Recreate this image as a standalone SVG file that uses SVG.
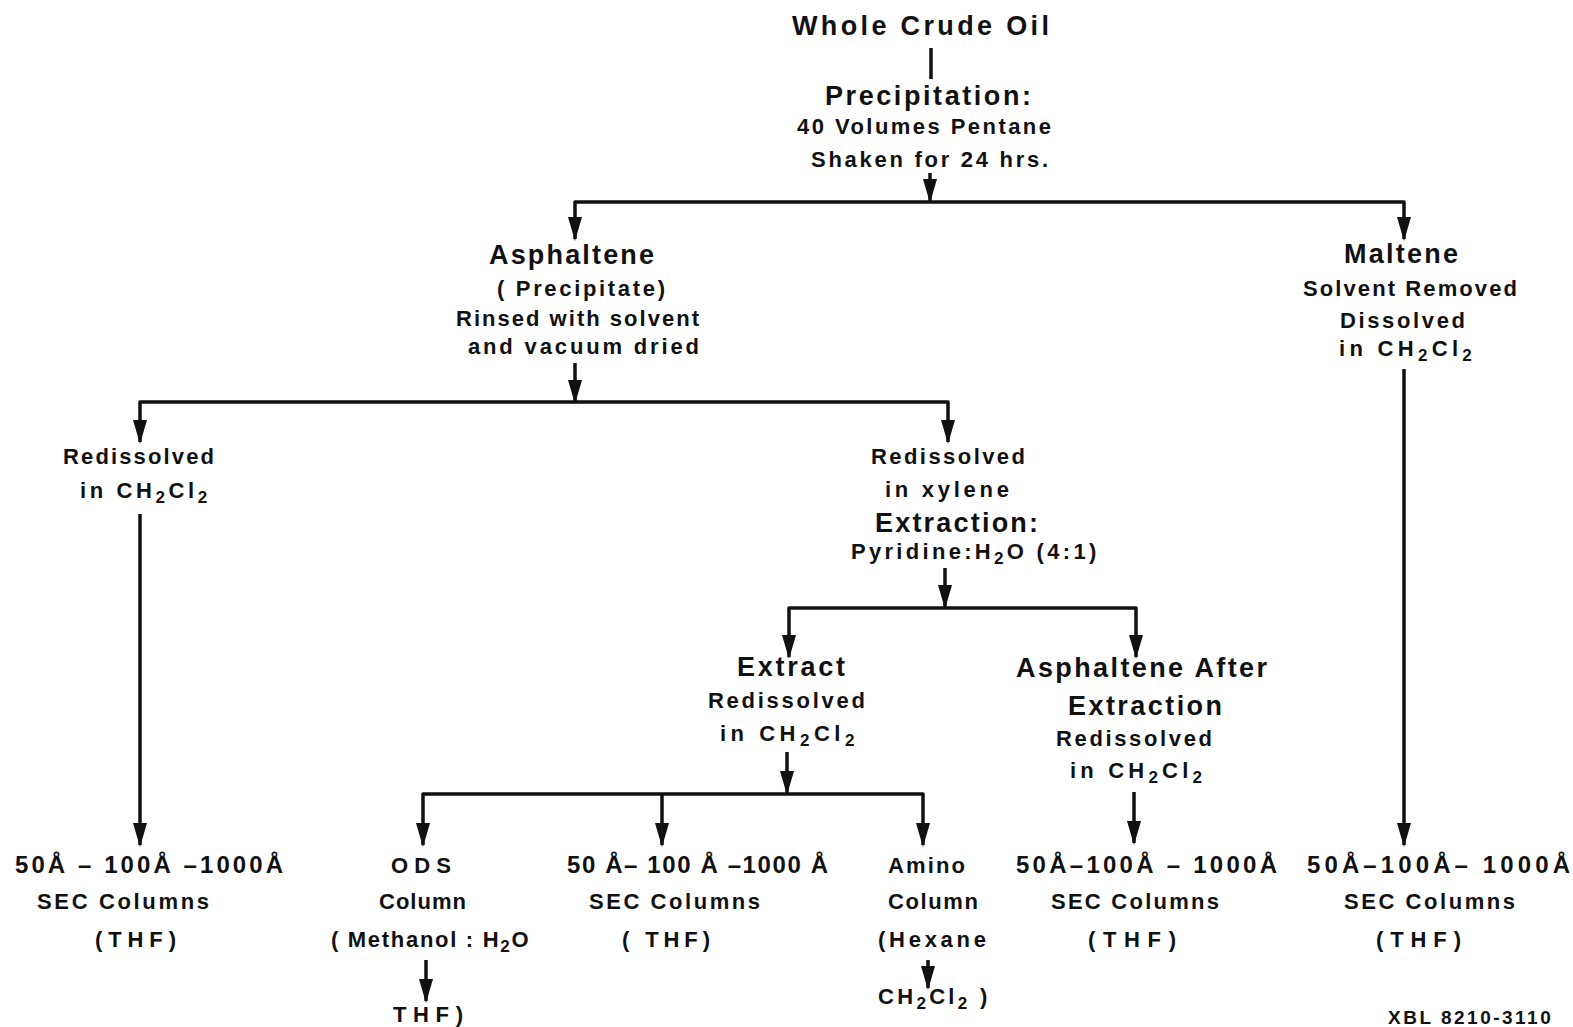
<svg xmlns="http://www.w3.org/2000/svg" width="1573" height="1027" viewBox="0 0 1573 1027">
<style>
text{font-family:"Liberation Sans",Arial,sans-serif;font-weight:bold;fill:#111;}
.b{font-size:27px;}
.s{font-size:22px;}
.m{font-size:24px;}
.sub{font-size:17px;}
.c{fill:none;stroke:#111;stroke-width:3.5;stroke-linejoin:round;}
</style>
<defs>
<marker id="ar" markerUnits="userSpaceOnUse" markerWidth="24" markerHeight="14" viewBox="0 0 24 14" refX="22" refY="7" orient="auto-start-reverse">
<path d="M0,0 L24,7 L0,14 Z" fill="#111"/>
</marker>
</defs>
<rect width="1573" height="1027" fill="#fff"/>

<g id="connectors">
<path class="c" d="M931,48 V79"/>
<path class="c" d="M930,173 V201" marker-end="url(#ar)"/>
<path class="c" d="M575,239 V202 H1404 V239" marker-start="url(#ar)" marker-end="url(#ar)"/>
<path class="c" d="M575,363 V402" marker-end="url(#ar)"/>
<path class="c" d="M140,442 V402 H948 V442" marker-start="url(#ar)" marker-end="url(#ar)"/>
<path class="c" d="M140,514 V845" marker-end="url(#ar)"/>
<path class="c" d="M1404,369 V845" marker-end="url(#ar)"/>
<path class="c" d="M945,568 V607" marker-end="url(#ar)"/>
<path class="c" d="M789,657 V608 H1136 V657" marker-start="url(#ar)" marker-end="url(#ar)"/>
<path class="c" d="M787,752 V793" marker-end="url(#ar)"/>
<path class="c" d="M423,845 V794 H923 V845" marker-start="url(#ar)" marker-end="url(#ar)"/>
<path class="c" d="M662,794 V845" marker-end="url(#ar)"/>
<path class="c" d="M1134,792 V843" marker-end="url(#ar)"/>
<path class="c" d="M426,960 V1001" marker-end="url(#ar)"/>
<path class="c" d="M928,960 V988" marker-end="url(#ar)"/>
</g>

<g id="whole-crude-oil">
<text class="b" x="792" y="35" textLength="257" lengthAdjust="spacing">Whole Crude Oil</text>
</g>
<g id="precipitation">
<text class="b" x="825" y="105" textLength="206" lengthAdjust="spacing">Precipitation:</text>
<text class="s" x="797" y="134" textLength="254" lengthAdjust="spacing">40 Volumes Pentane</text>
<text class="s" x="811" y="167" textLength="237" lengthAdjust="spacing">Shaken for 24 hrs.</text>
</g>
<g id="asphaltene">
<text class="b" x="489" y="264" textLength="165" lengthAdjust="spacing">Asphaltene</text>
<text class="s" x="497" y="296" textLength="168" lengthAdjust="spacing">( Precipitate)</text>
<text class="s" x="456" y="326" textLength="243" lengthAdjust="spacing">Rinsed with solvent</text>
<text class="s" x="468" y="354" textLength="231" lengthAdjust="spacing">and vacuum dried</text>
</g>
<g id="maltene">
<text class="b" x="1344" y="263" textLength="114" lengthAdjust="spacing">Maltene</text>
<text class="s" x="1303" y="296" textLength="214" lengthAdjust="spacing">Solvent Removed</text>
<text class="s" x="1340" y="328" textLength="125" lengthAdjust="spacing">Dissolved</text>
<text class="s" x="1339" y="356" letter-spacing="4.3">in CH<tspan class="sub" dy="5">2</tspan><tspan dy="-5">Cl</tspan><tspan class="sub" dy="5">2</tspan></text>
</g>
<g id="redissolved-ch2cl2">
<text class="s" x="63" y="464" textLength="151" lengthAdjust="spacing">Redissolved</text>
<text class="s" x="80" y="498" letter-spacing="3.6">in CH<tspan class="sub" dy="5">2</tspan><tspan dy="-5">Cl</tspan><tspan class="sub" dy="5">2</tspan></text>
</g>
<g id="redissolved-xylene">
<text class="s" x="871" y="464" textLength="154" lengthAdjust="spacing">Redissolved</text>
<text class="s" x="885" y="497" textLength="124" lengthAdjust="spacing">in  xylene</text>
<text class="b" x="875" y="532" textLength="163" lengthAdjust="spacing">Extraction:</text>
<text class="s" x="851" y="559" letter-spacing="3.3">Pyridine:H<tspan class="sub" dy="5">2</tspan><tspan dy="-5">O (4:1)</tspan></text>
</g>
<g id="extract">
<text class="b" x="737" y="676" textLength="108" lengthAdjust="spacing">Extract</text>
<text class="s" x="708" y="708" textLength="157" lengthAdjust="spacing">Redissolved</text>
<text class="s" x="720" y="741" letter-spacing="4.5">in  CH<tspan class="sub" dy="5">2</tspan><tspan dy="-5">Cl</tspan><tspan class="sub" dy="5">2</tspan></text>
</g>
<g id="asphaltene-after-extraction">
<text class="b" x="1016" y="677" textLength="251" lengthAdjust="spacing">Asphaltene After</text>
<text class="b" x="1068" y="715" textLength="154" lengthAdjust="spacing">Extraction</text>
<text class="s" x="1056" y="746" textLength="156" lengthAdjust="spacing">Redissolved</text>
<text class="s" x="1070" y="778" letter-spacing="4.2">in  CH<tspan class="sub" dy="5">2</tspan><tspan dy="-5">Cl</tspan><tspan class="sub" dy="5">2</tspan></text>
</g>
<g id="sec-1">
<text class="m" x="15" y="873" textLength="268" lengthAdjust="spacing">50Å – 100Å –1000Å</text>
<text class="s" x="37" y="909" textLength="172" lengthAdjust="spacing">SEC Columns</text>
<text class="s" x="95" y="947" textLength="81" lengthAdjust="spacing">(THF)</text>
</g>
<g id="ods-column">
<text class="s" x="391" y="873" textLength="60" lengthAdjust="spacing">ODS</text>
<text class="s" x="379" y="909" textLength="87" lengthAdjust="spacing">Column</text>
<text class="s" x="331" y="947" letter-spacing="1.7">( Methanol : H<tspan class="sub" dy="5">2</tspan><tspan dy="-5">O</tspan></text>
<text class="s" x="393" y="1022" textLength="70" lengthAdjust="spacing">THF)</text>
</g>
<g id="sec-2">
<text class="m" x="567" y="873" textLength="261" lengthAdjust="spacing">50 Å– 100 Å –1000 Å</text>
<text class="s" x="589" y="909" textLength="171" lengthAdjust="spacing">SEC Columns</text>
<text class="s" x="622" y="947" textLength="88" lengthAdjust="spacing">( THF)</text>
</g>
<g id="amino-column">
<text class="s" x="888" y="873" textLength="77" lengthAdjust="spacing">Amino</text>
<text class="s" x="888" y="909" textLength="90" lengthAdjust="spacing">Column</text>
<text class="s" x="878" y="947" textLength="108" lengthAdjust="spacing">(Hexane</text>
<text class="s" x="878" y="1004" letter-spacing="3.3">CH<tspan class="sub" dy="5">2</tspan><tspan dy="-5">Cl</tspan><tspan class="sub" dy="5">2</tspan><tspan dy="-5"> )</tspan></text>
</g>
<g id="sec-3">
<text class="m" x="1016" y="873" textLength="261" lengthAdjust="spacing">50Å–100Å – 1000Å</text>
<text class="s" x="1051" y="909" textLength="168" lengthAdjust="spacing">SEC Columns</text>
<text class="s" x="1088" y="947" textLength="88" lengthAdjust="spacing">(THF)</text>
</g>
<g id="sec-4">
<text class="m" x="1307" y="873" textLength="263" lengthAdjust="spacing">50Å–100Å– 1000Å</text>
<text class="s" x="1344" y="909" textLength="171" lengthAdjust="spacing">SEC Columns</text>
<text class="s" x="1376" y="947" textLength="85" lengthAdjust="spacing">(THF)</text>
</g>
<g id="figure-id">
<text x="1388" y="1024" font-size="19" letter-spacing="2.5">XBL 8210-3110</text>
</g>
</svg>
